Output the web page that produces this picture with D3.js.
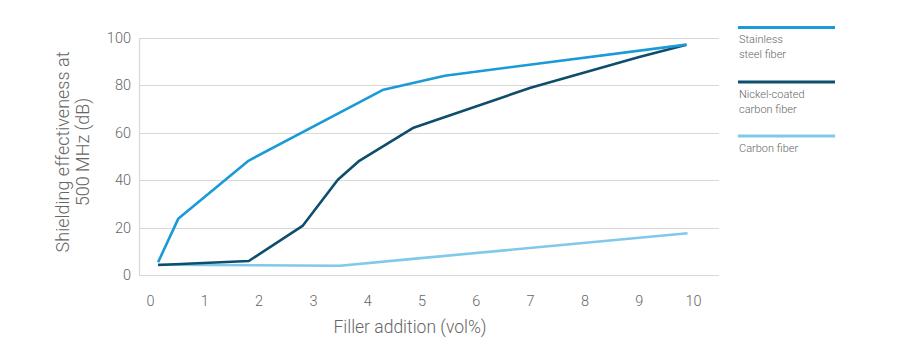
<!DOCTYPE html>
<html>
<head>
<meta charset="utf-8">
<script src="https://cdn.jsdelivr.net/npm/d3@7"></script>
<style>
  body { margin: 0; background: #fff; }
  svg { display: block; }
  text { font-family: "Roboto", "Liberation Sans", sans-serif; font-weight: 300; fill: #666; }
</style>
</head>
<body>
<svg id="chart" width="900" height="362"></svg>
<script>
// data
var seriesNames = ["Stainless steel fiber", "Nickel-coated carbon fiber", "Carbon fiber"];
var legendLines = [["Stainless", "steel fiber"], ["Nickel-coated", "carbon fiber"], ["Carbon fiber"]];
var colors = ["#1a9ad6", "#0d4e6c", "#80c9ea"];

var steelX = [0.14, 0.51, 1.81, 4.29, 5.42, 9.87];
var steelY = [5.4, 23.7, 48.3, 78.2, 84.1, 97.2];

var nickelX = [0.14, 1.81, 2.8, 3.45, 3.83, 4.83, 7.0, 9.0, 9.87];
var nickelY = [4.2, 5.9, 20.7, 40.2, 47.9, 62.0, 79.0, 92.0, 97.2];

var carbonX = [0.14, 3.49, 4.83, 9.89];
var carbonY = [4.3, 3.9, 6.8, 17.6];

var xTicks = [0, 1, 2, 3, 4, 5, 6, 7, 8, 9, 10];
var yTicks = [0, 20, 40, 60, 80, 100];

var svg = d3.select("#chart");

// plot box
var plotLeft = 139, plotRight = 719, plotTop = 38, plotBottom = 275;

var x = d3.scaleLinear().domain([0, 10]).range([150.5, 693.5]);
var y = d3.scaleLinear().domain([0, 100]).range([plotBottom, plotTop]);

// gridlines
svg.append("g")
  .selectAll("line")
  .data(yTicks)
  .enter()
  .append("line")
  .attr("x1", plotLeft)
  .attr("x2", plotRight)
  .attr("y1", function (d) { return Math.round(y(d)) + 0.5; })
  .attr("y2", function (d) { return Math.round(y(d)) + 0.5; })
  .attr("stroke", "#d8d8d8")
  .attr("stroke-width", 1.2);

// left axis line
svg.append("line")
  .attr("x1", plotLeft + 0.5).attr("x2", plotLeft + 0.5)
  .attr("y1", plotTop).attr("y2", plotBottom + 1)
  .attr("stroke", "#d8d8d8")
  .attr("stroke-width", 1.2);

// y tick labels
svg.append("g")
  .selectAll("text")
  .data(yTicks)
  .enter()
  .append("text")
  .attr("x", 131)
  .attr("y", function (d) { return y(d) + 5; })
  .attr("text-anchor", "end")
  .attr("font-size", 14.5)
  .text(function (d) { return d; });

// x tick labels
svg.append("g")
  .selectAll("text")
  .data(xTicks)
  .enter()
  .append("text")
  .attr("x", function (d) { return x(d); })
  .attr("y", 306)
  .attr("text-anchor", "middle")
  .attr("font-size", 14.5)
  .text(function (d) { return d; });

// axis titles
svg.append("text")
  .attr("x", 410)
  .attr("y", 333)
  .attr("text-anchor", "middle")
  .attr("font-size", 17.5)
  .text("Filler addition (vol%)");

var yTitle = svg.append("text")
  .attr("transform", "translate(0,152) rotate(-90)")
  .attr("text-anchor", "middle")
  .attr("font-size", 18);
yTitle.append("tspan").attr("x", 0).attr("y", 69).text("Shielding effectiveness at");
yTitle.append("tspan").attr("x", 0).attr("y", 89).text("500 MHz (dB)");

// lines
var allX = [steelX, nickelX, carbonX];
var allY = [steelY, nickelY, carbonY];
var line = d3.line()
  .x(function (d) { return x(d[0]); })
  .y(function (d) { return y(d[1]); });

// carbon first so the others sit on top
[2, 1, 0].forEach(function (s) {
  var pts = allX[s].map(function (v, i) { return [v, allY[s][i]]; });
  svg.append("path")
    .datum(pts)
    .attr("d", line)
    .attr("fill", "none")
    .attr("stroke", colors[s])
    .attr("stroke-width", 2.6)
    .attr("stroke-linejoin", "round");
});

// legend
var legendTop = [27.5, 82, 136];
var legend = svg.append("g");
seriesNames.forEach(function (name, i) {
  legend.append("line")
    .attr("x1", 738).attr("x2", 835)
    .attr("y1", legendTop[i]).attr("y2", legendTop[i])
    .attr("stroke", colors[i])
    .attr("stroke-width", 3);
  legendLines[i].forEach(function (t, j) {
    legend.append("text")
      .attr("x", 739)
      .attr("y", legendTop[i] + 15.5 + j * 15)
      .attr("font-size", 11)
      .text(t);
  });
});
</script>
</body>
</html>
